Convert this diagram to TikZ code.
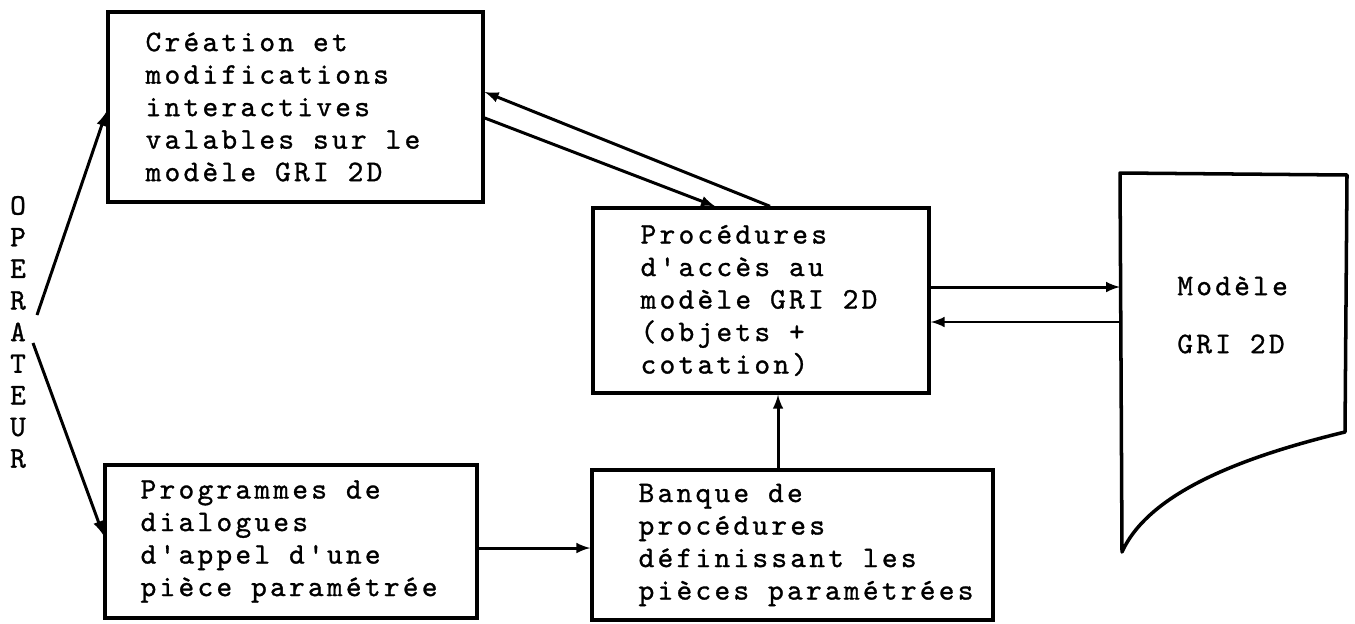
\documentclass[tikz,border=0pt]{standalone}
\usepackage{fontspec}
\newfontfamily\typew{lmmono10-regular.otf}[LetterSpace=11, FakeBold=1]

\begin{document}
\begin{tikzpicture}[x=0.02cm, y=-0.02cm,
    boite/.style={draw, line width=2pt, inner sep=0pt},
    texte/.style={inner sep=0pt, align=left, font=\typew\fontsize{17}{18.5}\selectfont},
    fleche/.style={line width=1.7pt, -latex}]
  \useasboundingbox (0,0) rectangle (1355,623);

  % boites
  \node[boite, minimum width=7.5cm, minimum height=3.8cm] (crea) at (295.5,107) {};
  \node[boite, minimum width=7.44cm, minimum height=3.06cm] (prog) at (291,541.5) {};
  \node[boite, minimum width=6.72cm, minimum height=3.7cm] (proc) at (761,300.5) {};
  \node[boite, minimum width=8.02cm, minimum height=3.0cm] (banque) at (792.5,545) {};

  % textes des boites
  \node[texte, anchor=west] (creatxt) at ([xshift=0.78cm]crea.west)
    {Création et\\modifications\\interactives\\valables sur le\\modèle GRI 2D};
  \node[texte, anchor=west] (progtxt) at ([xshift=0.74cm]prog.west)
    {Programmes de\\dialogues\\d'appel d'une\\pièce paramétrée};
  \node[texte, anchor=west] (proctxt) at ([xshift=0.98cm]proc.west)
    {Procédures\\d'accès au\\modèle GRI 2D\\(objets +\\cotation)};
  \node[texte, anchor=west] (banquetxt) at ([xshift=0.96cm]banque.west)
    {Banque de\\procédures\\définissant les\\pièces paramétrées};

  % modele GRI 2D
  \coordinate (mtl) at (1120,173);
  \draw[line width=2pt, line join=round] (mtl) -- (1347,175) -- (1345,432)
    .. controls (1250,455) and (1150,490) .. (1122,552) -- cycle;
  \node[texte, anchor=west, font=\typew\fontsize{17}{33}\selectfont] (modele) at (1177,315) {Modèle\\GRI 2D};

  % operateur
  \node[texte, align=center, font=\typew\fontsize{17}{18}\selectfont] (oper) at (18,332)
    {O\\P\\E\\R\\A\\T\\E\\U\\R};
  \coordinate (opa) at (37,315);
  \coordinate (opb) at (33,343);

  % fleches
  \draw[fleche] (opa) -- ([yshift=-0.1cm]crea.west);
  \draw[fleche] (opb) -- ([yshift=0.13cm]prog.west);
  \draw[fleche] ([xshift=0.18cm]proc.north) -- ([yshift=0.3cm]crea.east);
  \draw[fleche] ([yshift=-0.22cm]crea.east) -- ([xshift=-0.92cm]proc.north);
  \draw[fleche] ([yshift=0.27cm]proc.east) -- ([yshift=0.27cm]proc.east -| mtl);
  \draw[fleche] ([yshift=-0.43cm]proc.east -| mtl) -- ([yshift=-0.43cm]proc.east);
  \draw[fleche] ([yshift=-0.13cm]prog.east) -- ([yshift=-0.13cm]prog.east -| banque.west);
  \draw[fleche] ([xshift=-0.29cm]banque.north) -- ([xshift=-0.29cm]banque.north |- proc.south);
\end{tikzpicture}
\end{document}
